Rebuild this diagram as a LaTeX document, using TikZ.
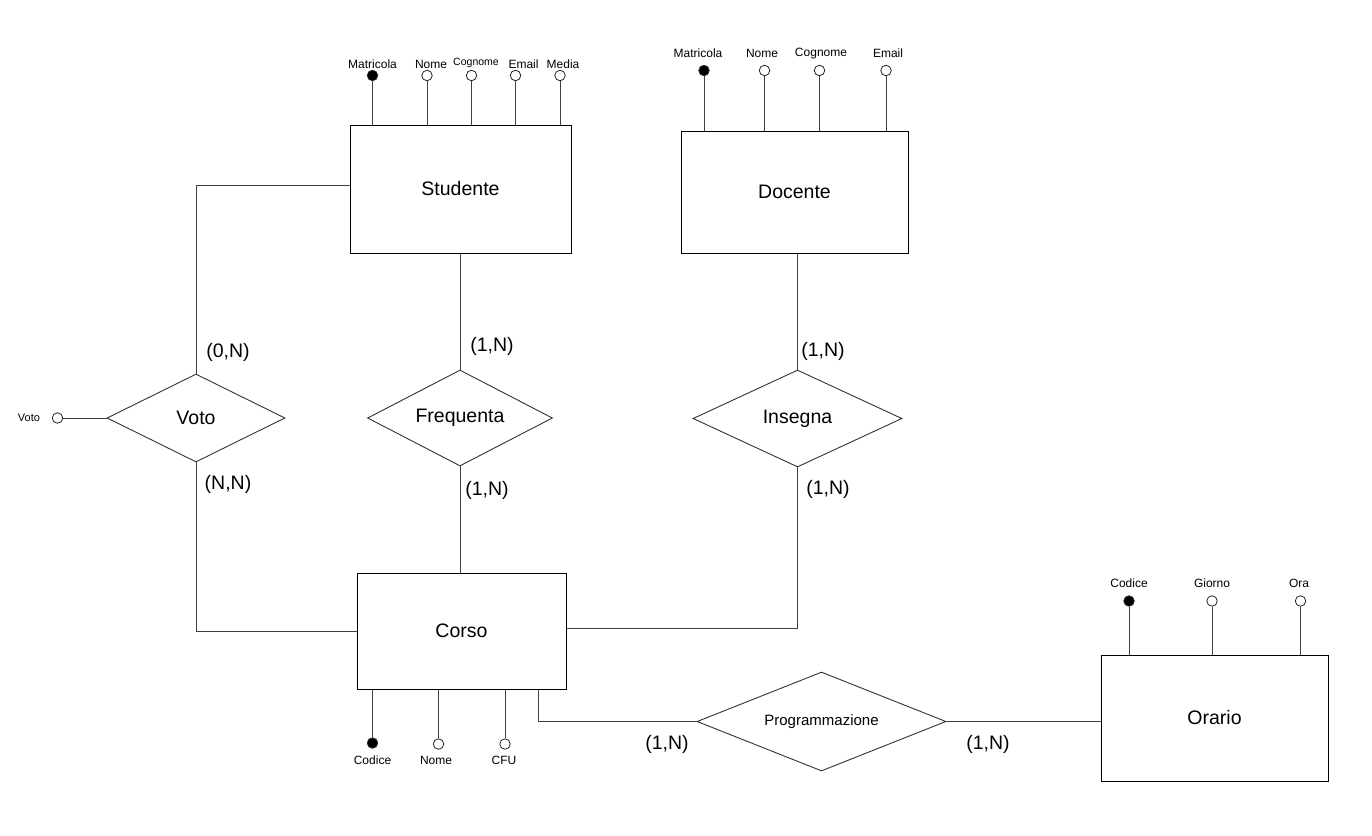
\documentclass[tikz,border=0pt]{standalone}
\usepackage{fontspec}
\setmainfont{Liberation Sans}
\usetikzlibrary{shapes.geometric}

\begin{document}
\begin{tikzpicture}[x=1pt,y=-1pt,
  entity/.style={draw=black,line width=1pt,rectangle,inner sep=0pt,
    font=\fontsize{19.5}{22}\selectfont},
  rel/.style={draw=black!80,line width=0.9pt,diamond,inner sep=0pt,aspect=2,
    font=\fontsize{19.5}{22}\selectfont},
  attr/.style={draw=black!85,line width=0.8pt,circle,fill=white,inner sep=0pt,
    minimum size=10.5pt},
  keyattr/.style={attr,fill=black},
  alabel/.style={inner sep=0pt,font=\fontsize{12}{14}\selectfont},
  card/.style={inner sep=0pt,font=\fontsize{19.5}{22}\selectfont},
  conn/.style={draw=black!75,line width=0.9pt},
]
\useasboundingbox (0,0) rectangle (1372,835);

% entities
\node[entity,minimum width=221,minimum height=128] (stud) at (460.5,189) {Studente};
\node[entity,minimum width=227,minimum height=122] (doc) at (794.5,192) {Docente};
\node[entity,minimum width=209,minimum height=116] (corso) at (461.5,631) {Corso};
\node[entity,minimum width=227,minimum height=126] (orario) at (1214.5,718) {Orario};

% relationships
\node[rel,minimum width=178,minimum height=88] (voto) at (196,418) {Voto};
\node[rel,minimum width=185,minimum height=96] (freq) at (460,418) {Frequenta};
\node[rel,minimum width=209,minimum height=97] (ins) at (797.5,418.5) {Insegna};
\node[rel,minimum width=249,minimum height=99,font=\fontsize{15}{17}\selectfont] (prog) at (821.5,721.5) {Programmazione};

% attributes of Studente
\node[keyattr] (sa1) at (372.5,75.5) {};
\node[attr] (sa2) at (427,75.5) {};
\node[attr] (sa3) at (471.5,75.5) {};
\node[attr] (sa4) at (515.5,75.5) {};
\node[attr] (sa5) at (560,75.5) {};
\node[alabel] (sl1) at (372.5,64) {Matricola};
\node[alabel] (sl2) at (431,64) {Nome};
\node[alabel,font=\fontsize{10.5}{12}\selectfont] (sl3) at (476,63) {Cognome};
\node[alabel] (sl4) at (523.5,64) {Email};
\node[alabel] (sl5) at (563,64) {Media};
\foreach \a in {sa1,sa2,sa3,sa4,sa5}
  \draw[conn] (\a) -- (\a |- stud.north);

% attributes of Docente
\node[keyattr] (da1) at (704,70.5) {};
\node[attr] (da2) at (764.5,70.5) {};
\node[attr] (da3) at (819.5,70.5) {};
\node[attr] (da4) at (886,70.5) {};
\node[alabel] (dl1) at (698,53.5) {Matricola};
\node[alabel] (dl2) at (762,53.5) {Nome};
\node[alabel] (dl3) at (821,53.5) {Cognome};
\node[alabel] (dl4) at (888,53.5) {Email};
\foreach \a in {da1,da2,da3,da4}
  \draw[conn] (\a) -- (\a |- doc.north);

% attributes of Corso
\node[keyattr] (ca1) at (372.5,743) {};
\node[attr] (ca2) at (438.5,744) {};
\node[attr] (ca3) at (505,744) {};
\node[alabel] (cl1) at (372.5,760) {Codice};
\node[alabel] (cl2) at (436,760) {Nome};
\node[alabel] (cl3) at (504,760) {CFU};
\foreach \a in {ca1,ca2,ca3}
  \draw[conn] (\a) -- (\a |- corso.south);

% attributes of Orario
\node[keyattr] (oa1) at (1129,601) {};
\node[attr] (oa2) at (1212,601) {};
\node[attr] (oa3) at (1300.5,601) {};
\node[alabel] (ol1) at (1129,583.5) {Codice};
\node[alabel] (ol2) at (1212,583.5) {Giorno};
\node[alabel] (ol3) at (1299,583.5) {Ora};
\foreach \a in {oa1,oa2,oa3}
  \draw[conn] (\a) -- (\a |- orario.north);

% attribute of Voto
\node[attr] (va) at (57.5,418) {};
\node[alabel,font=\fontsize{11}{13}\selectfont] (vl) at (29,418) {Voto};
\draw[conn] (va) -- (voto.west);

% connectors
\draw[conn] ([yshift=4pt]stud.west) -| (voto.north);
\draw[conn] (voto.south) |- (corso.west);
\draw[conn] (freq.north |- stud.south) -- (freq.north);
\draw[conn] (freq.south) -- (freq.south |- corso.north);
\draw[conn] (ins.north |- doc.south) -- (ins.north);
\draw[conn] (ins.south) |- ([yshift=3pt]corso.east);
\draw[conn] ([xshift=77pt]corso.south) |- (prog.west);
\draw[conn] (prog.east) -- (prog.east -| orario.west);

% cardinalities
\node[card] (k1) at (228,352) {(0,N)};
\node[card] (k2) at (228,484.5) {(N,N)};
\node[card] (k3) at (492,346) {(1,N)};
\node[card] (k4) at (487,490) {(1,N)};
\node[card] (k5) at (823,351.5) {(1,N)};
\node[card] (k6) at (828,489) {(1,N)};
\node[card] (k7) at (667,744) {(1,N)};
\node[card] (k8) at (988,744) {(1,N)};
\end{tikzpicture}
\end{document}
